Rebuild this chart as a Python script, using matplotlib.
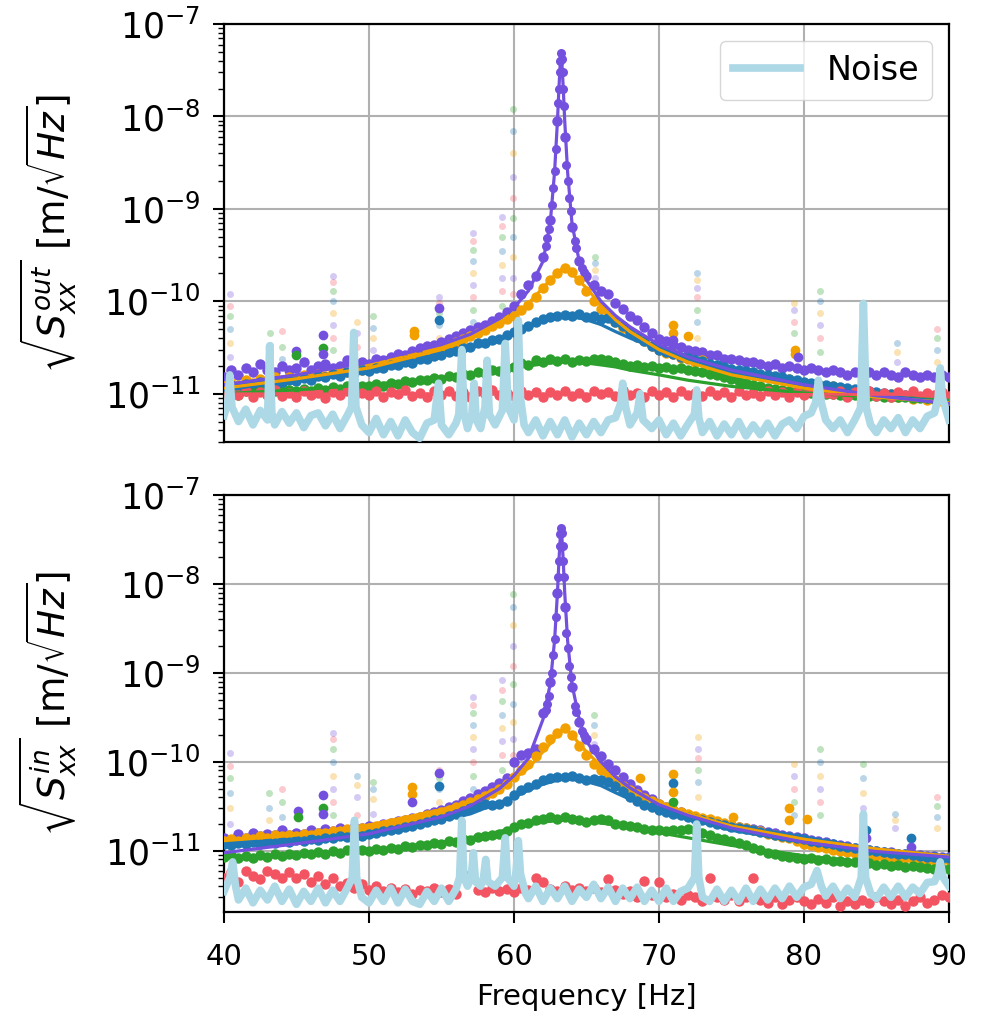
import numpy as np
import matplotlib.pyplot as plt
from matplotlib.ticker import NullFormatter

unit = 1e-11  # all values below are in units of 1e-11 m/sqrt(Hz)

colors = {'purple': '#7350dd', 'orange': '#f2a000', 'blue': '#1f77b4',
          'green': '#2ca02c', 'red': '#f25462'}
noise_color = '#add8e6'
order = ['purple', 'orange', 'blue', 'green', 'red']

# 0.5 Hz bins
freq = np.arange(40, 90.01, 0.5)
ytick_vals = [1e-11, 1e-10, 1e-9, 1e-8, 1e-7]

# ---------------- out-of-plane (top) ----------------
out_purple = [1.5, 1.8, 1.6, 1.9, 1.7, 2.1, 1.8, 1.7, 2.0, 1.8,
              1.9, 2.2, 1.8, 2.0, 2.1, 1.9, 2.0, 2.3, 2.1, 2.2,
              2.1, 2.4, 2.3, 2.5, 2.7, 2.6, 2.9, 3.1, 3.3, 3.4,
              3.6, 3.9, 4.2, 4.5, 4.9, 5.3, 5.6, 6.1, 6.8, 7.6,
              9.0, 12, 15, 19, 30, 76, 900, 600, 63, 27,
              19, 15, 13, 12, 9.5, 8.2, 7.0, 6.2, 5.3, 4.5,
              3.9, 3.7, 3.4, 3.2, 3.0, 2.9, 2.8, 2.6, 2.6, 2.4,
              2.4, 2.3, 2.2, 2.2, 2.1, 2.0, 2.1, 1.9, 2.0, 1.9,
              1.8, 1.9, 1.8, 1.7, 1.8, 1.7, 1.6, 1.7, 1.6, 1.7,
              1.6, 1.7, 1.6, 1.5, 1.7, 1.6, 1.5, 1.6, 1.5, 1.6,
              1.5]
out_orange = [1.2, 1.3, 1.25, 1.4, 1.3, 1.45, 1.35, 1.5, 1.4, 1.5,
              1.45, 1.6, 1.5, 1.65, 1.55, 1.7, 1.75, 1.7, 1.85, 1.8,
              1.95, 2.0, 2.1, 2.2, 2.35, 2.3, 2.6, 2.5, 2.8, 3.0,
              3.1, 3.4, 3.6, 3.9, 4.2, 4.5, 4.9, 5.4, 5.8, 6.4,
              7.0, 8.0, 9.2, 11, 14, 17, 20, 23, 21, 17,
              13, 10, 8.3, 6.9, 5.9, 5.2, 4.6, 4.1, 3.7, 3.3,
              3.0, 2.75, 2.7, 2.45, 2.4, 2.2, 2.3, 2.0, 2.0, 1.85,
              1.8, 1.68, 1.72, 1.58, 1.6, 1.5, 1.52, 1.42, 1.45, 1.36,
              1.3, 1.22, 1.27, 1.15, 1.2, 1.1, 1.13, 1.05, 1.08, 1.0,
              1.02, 0.95, 0.99, 0.92, 0.95, 0.88, 0.92, 0.86, 0.89, 0.84,
              0.86]
out_blue = [1.15, 1.25, 1.18, 1.28, 1.22, 1.33, 1.27, 1.36, 1.3, 1.42,
            1.38, 1.48, 1.42, 1.55, 1.5, 1.62, 1.56, 1.7, 1.66, 1.8,
            1.76, 1.9, 1.88, 2.05, 2.02, 2.2, 2.16, 2.35, 2.4, 2.55,
            2.6, 2.85, 2.9, 3.15, 3.2, 3.5, 3.55, 3.85, 3.9, 4.3,
            4.6, 5.0, 5.4, 5.9, 6.4, 6.7, 7.0, 7.1, 6.9, 7.2,
            6.7, 6.9, 6.5, 6.6, 6.0, 5.4, 4.7, 4.1, 3.7, 3.3,
            3.0, 2.8, 2.7, 2.5, 2.45, 2.3, 2.25, 2.1, 2.05, 1.95,
            1.85, 1.8, 1.75, 1.7, 1.65, 1.6, 1.55, 1.5, 1.45, 1.4,
            1.35, 1.32, 1.28, 1.25, 1.22, 1.18, 1.15, 1.12, 1.1, 1.07,
            1.05, 1.03, 1.0, 0.98, 0.96, 0.94, 0.92, 0.9, 0.89, 0.88,
            0.87]
out_green = [1.0, 1.05, 0.98, 1.06, 1.02, 1.08, 1.0, 1.07, 1.04, 1.1,
             1.06, 1.12, 1.08, 1.15, 1.1, 1.17, 1.13, 1.2, 1.16, 1.22,
             1.2, 1.26, 1.22, 1.3, 1.28, 1.36, 1.33, 1.42, 1.4, 1.48,
             1.45, 1.55, 1.52, 1.62, 1.6, 1.7, 1.68, 1.8, 1.78, 1.9,
             1.95, 2.15, 2.05, 2.3, 2.2, 2.4, 2.25, 2.35, 2.2, 2.3,
             2.25, 2.4, 2.35, 2.3, 2.2, 2.1, 2.0, 2.05, 1.95, 2.0,
             1.9, 1.95, 1.85, 1.9, 1.8, 1.78, 1.7, 1.65, 1.6, 1.5,
             1.45, 1.38, 1.3, 1.25, 1.2, 1.16, 1.12, 1.1, 1.08, 1.06,
             1.05, 1.02, 1.03, 1.0, 1.0, 0.98, 0.98, 0.96, 0.96, 0.95,
             0.95, 0.93, 0.93, 0.92, 0.91, 0.9, 0.9, 0.89, 0.88, 0.88,
             0.87]
out_red = [0.95, 1.05, 0.97, 1.08, 0.93, 1.04, 0.98, 1.1, 0.95, 1.02,
           0.92, 1.06, 0.97, 1.03, 0.9, 1.05, 0.98, 1.08, 0.94, 1.02,
           0.96, 1.07, 0.93, 1.04, 0.99, 1.1, 0.95, 1.03, 0.92, 1.06,
           0.98, 1.08, 0.95, 1.04, 0.93, 1.06, 0.99, 1.09, 0.96, 1.03,
           0.94, 1.07, 0.98, 1.05, 0.92, 1.04, 0.97, 1.08, 0.95, 1.02,
           0.93, 1.06, 0.99, 1.04, 0.95, 1.09, 0.97, 1.03, 0.92, 1.07,
           0.96, 1.05, 0.93, 1.08, 0.98, 1.03, 0.94, 1.07, 0.97, 1.04,
           0.92, 1.06, 0.98, 1.03, 0.95, 1.08, 0.96, 1.04, 0.93, 1.05,
           0.97, 1.07, 0.94, 1.03, 0.99, 1.06, 0.93, 1.04, 0.96, 1.08,
           0.95, 1.03, 0.92, 1.05, 0.98, 1.07, 0.94, 1.02, 0.97, 1.04,
           0.95]

# extra purple samples around the resonance
peak_f = [62.2, 62.3, 62.4, 62.6, 62.7, 62.8, 62.9, 63.05, 63.1, 63.15, 63.2, 63.25,
          63.3, 63.35, 63.4, 63.45, 63.6, 63.7, 63.8, 63.9, 64.2, 64.3, 64.7, 64.8]
out_peak = [40, 48, 60, 110, 170, 260, 450, 1400, 2000, 3000, 4000, 4900,
            4200, 3000, 2000, 1300, 300, 200, 130, 95, 45, 38, 23, 21]

# fitted curves
fit_f = [40, 45, 50, 55, 57, 59, 60, 61, 62, 62.5, 62.8, 63.0, 63.1, 63.2, 63.25, 63.3,
         63.4, 63.5, 63.7, 64.0, 64.5, 65, 66, 67, 68, 70, 72, 75, 80, 85, 90]
out_fit_purple = [1.25, 1.6, 2.2, 3.4, 4.4, 6.5, 8.5, 13, 27, 70, 250, 900, 2000, 4000, 4800, 4000,
                  2000, 900, 250, 70, 27, 17, 10, 7.0, 5.3, 3.4, 2.5, 1.8, 1.25, 0.95, 0.78]
out_fit_orange = [1.15, 1.45, 1.9, 3.0, 3.9, 5.6, 7.0, 9.5, 14, 17, 19, 20, 21, 21.5, 22, 22,
                  22, 22, 21.5, 20, 16.5, 14, 9, 6.3, 4.7, 3.0, 2.2, 1.6, 1.15, 0.92, 0.8]
out_fit_blue = [1.1, 1.4, 1.8, 2.6, 3.1, 4.0, 4.5, 5.2, 6.0, 6.3, 6.5, 6.6, 6.65, 6.7, 6.7, 6.75,
                6.75, 6.8, 6.8, 6.75, 6.6, 6.3, 5.6, 4.7, 4.0, 3.0, 2.3, 1.7, 1.22, 0.96, 0.81]
out_fit_green = [1.0, 1.1, 1.25, 1.5, 1.62, 1.8, 1.9, 2.0, 2.1, 2.15, 2.17, 2.18, 2.19, 2.2, 2.2, 2.2,
                 2.2, 2.2, 2.2, 2.2, 2.18, 2.15, 2.05, 1.95, 1.8, 1.6, 1.4, 1.2, 1.02, 0.92, 0.85]
red_fit_f = [40, 90]
out_fit_red = [1.0, 0.98]

out_noise_f = [40.0, 40.25, 40.4, 40.55, 41.0, 41.5, 42.0, 42.5, 43.0, 43.15, 43.3, 43.5,
               44.0, 44.5, 45.0, 45.5, 46.0, 46.5, 47.0, 47.5, 48.0, 48.5, 48.8, 48.95,
               49.1, 49.5, 50.0, 50.5, 51.0, 51.5, 52.0, 52.5, 53.0, 53.5, 54.0, 54.5,
               54.8, 55.0, 55.5, 56.0, 56.2, 56.4, 56.55, 56.8, 57.1, 57.25, 57.4, 57.7,
               58.0, 58.15, 58.3, 58.7, 59.2, 59.4, 59.6, 60.0, 60.2, 60.3, 60.45, 60.7,
               61.0, 61.5, 62.0, 62.5, 63.0, 63.5, 64.0, 64.5, 65.0, 65.5, 66.0, 66.5,
               67.0, 67.35, 67.5, 67.7, 68.0, 68.5, 68.7, 68.9, 69.5, 70.0, 70.5, 71.0,
               71.5, 72.0, 72.45, 72.6, 72.75, 73.0, 73.5, 74.0, 74.5, 75.0, 75.5, 76.0,
               76.5, 77.0, 77.5, 78.0, 78.5, 79.0, 79.5, 80.0, 80.5, 80.8, 81.0, 81.2,
               81.5, 82.0, 82.5, 83.0, 83.5, 83.9, 84.1, 84.3, 84.6, 85.0, 85.5, 86.0,
               86.5, 87.0, 87.5, 88.0, 88.5, 89.0, 89.25, 89.4, 89.55, 90.0]
out_noise_v = [0.58, 0.78, 1.6, 0.72, 0.5, 0.68, 0.46, 0.66, 0.52, 3.3, 0.62, 0.46,
               0.64, 0.48, 0.62, 0.43, 0.58, 0.62, 0.45, 0.6, 0.42, 0.58, 0.72, 4.6,
               0.72, 0.46, 0.38, 0.54, 0.36, 0.5, 0.35, 0.52, 0.38, 0.33, 0.48, 0.52,
               1.3, 0.46, 0.36, 0.48, 0.6, 3.0, 0.62, 0.42, 0.62, 1.3, 0.52, 0.42,
               0.72, 2.3, 0.6, 0.46, 0.66, 3.5, 0.72, 0.52, 1.0, 6.2, 0.9, 0.46,
               0.38, 0.52, 0.35, 0.5, 0.36, 0.52, 0.34, 0.48, 0.36, 0.5, 0.38, 0.52,
               0.55, 0.78, 1.3, 0.72, 0.46, 0.62, 1.0, 0.52, 0.42, 0.52, 0.36, 0.48,
               0.35, 0.47, 0.6, 1.1, 0.55, 0.38, 0.5, 0.35, 0.47, 0.36, 0.5, 0.35,
               0.46, 0.36, 0.48, 0.35, 0.47, 0.52, 0.42, 0.57, 0.62, 0.8, 1.4, 0.8,
               0.52, 0.42, 0.52, 0.38, 0.52, 0.7, 9.5, 0.7, 0.46, 0.38, 0.52, 0.42,
               0.55, 0.38, 0.52, 0.42, 0.57, 0.62, 0.9, 1.9, 0.9, 0.52]

# points flagged out of the fit (drawn faint)
out_spike_f = [40.4, 43.2, 44.0, 47.5, 49.2, 50.3, 54.8, 57.2, 59.2, 59.9,
               65.6, 72.6, 79.3, 81.1, 84.1, 86.4, 89.2]
out_spike_v = [[2.5, 3.5, 5, 7, 9, 12], [2.6, 3.4, 4.5], [2.4, 3.2, 4.8],
               [3, 4, 5.5, 7.5, 10, 13, 16, 19], [3.2, 4.5, 6], [3, 4, 5.2, 7],
               [4, 5.5, 7.5, 9.5, 11], [6, 8, 11, 15, 20, 27, 36, 45, 55],
               [9, 13, 18, 25, 35, 50, 65, 81],
               [12, 18, 30, 50, 80, 130, 220, 400, 700, 1200],
               [18, 22, 26, 30], [4, 6, 8, 11, 14, 17, 20], [3, 4.5, 6, 8, 9.5],
               [2.8, 4, 5.5, 7.5, 10, 13], [2.5, 3.5, 5, 7, 9.5], [2.2, 2.8, 3.5],
               [2.2, 3, 4, 5]]
out_outl_f = [45.0, 45.0, 46.8, 46.8, 46.8, 53.1, 53.1, 54.8, 54.8, 71.0, 71.0, 71.0,
              72.0, 79.4, 79.4, 79.6]
out_outl_v = [2.9, 2.6, 4.3, 3.1, 2.7, 4.8, 4.3, 8.5, 6.2, 5.5, 4.5, 3.8, 4.2, 3.0, 2.7, 2.5]
out_outl_c = ['purple', 'green', 'purple', 'green', 'purple', 'orange', 'orange', 'purple',
              'blue', 'orange', 'orange', 'purple', 'orange', 'orange', 'orange', 'purple']

# ---------------- in-plane (bottom) ----------------
in_purple = [1.4, 1.3, 1.55, 1.4, 1.6, 1.45, 1.55, 1.5, 1.7, 1.5,
             1.6, 1.55, 1.7, 1.6, 1.75, 1.65, 1.8, 1.7, 1.85, 1.8,
             1.9, 1.85, 2.0, 2.05, 2.15, 2.2, 2.35, 2.4, 2.6, 2.7,
             2.9, 3.1, 3.3, 3.6, 3.9, 4.3, 4.7, 5.2, 5.8, 6.5,
             10, 12, 12.5, 14, 35, 80, 800, 550, 70, 28,
             18, 14, 11.5, 9.5, 8.0, 6.8, 5.6, 4.8, 4.2, 3.8,
             3.4, 3.1, 2.9, 2.7, 2.5, 2.4, 2.3, 2.2, 2.1, 2.0,
             1.95, 1.85, 1.8, 1.75, 1.7, 1.62, 1.58, 1.52, 1.48, 1.42,
             1.38, 1.32, 1.3, 1.24, 1.2, 1.15, 1.13, 1.08, 1.06, 1.02,
             1.0, 0.97, 0.96, 0.93, 0.93, 0.9, 0.9, 0.88, 0.88, 0.86,
             0.86]
in_orange = [1.3, 1.35, 1.3, 1.4, 1.35, 1.45, 1.4, 1.5, 1.45, 1.5,
             1.48, 1.55, 1.52, 1.6, 1.58, 1.68, 1.65, 1.75, 1.72, 1.82,
             1.8, 1.9, 1.95, 2.05, 2.1, 2.2, 2.3, 2.4, 2.5, 2.6,
             2.7, 2.9, 3.1, 3.3, 3.5, 3.8, 4.1, 4.5, 5.0, 5.7,
             6.8, 8.0, 9.5, 11.5, 14.5, 18, 21, 24, 20, 15,
             12, 9.5, 8.0, 7.0, 6.2, 5.4, 4.8, 4.3, 3.9, 3.6,
             3.4, 3.1, 2.9, 2.75, 2.6, 2.45, 2.35, 2.25, 2.15, 2.05,
             1.95, 1.85, 1.8, 1.7, 1.65, 1.55, 1.5, 1.42, 1.38, 1.3,
             1.2, 1.16, 1.1, 1.07, 1.03, 1.0, 0.96, 0.95, 0.92, 0.9,
             0.88, 0.86, 0.84, 0.83, 0.82, 0.8, 0.8, 0.79, 0.78, 0.78,
             0.78]
in_blue = [1.2, 1.15, 1.22, 1.18, 1.25, 1.2, 1.28, 1.23, 1.3, 1.26,
           1.32, 1.28, 1.36, 1.33, 1.4, 1.38, 1.45, 1.42, 1.5, 1.48,
           1.55, 1.58, 1.65, 1.7, 1.78, 1.85, 1.92, 2.0, 2.1, 2.2,
           2.3, 2.45, 2.6, 2.8, 3.0, 3.2, 3.4, 3.3, 3.4, 3.6,
           4.2, 4.8, 5.2, 5.7, 6.2, 6.6, 6.8, 6.7, 6.9, 6.5,
           6.3, 6.4, 6.2, 5.9, 5.3, 4.7, 4.0, 3.6, 3.3, 3.1,
           2.9, 2.75, 2.6, 2.5, 2.4, 2.3, 2.2, 2.1, 2.0, 1.95,
           1.85, 1.8, 1.75, 1.7, 1.63, 1.58, 1.52, 1.47, 1.42, 1.38,
           1.35, 1.3, 1.26, 1.22, 1.18, 1.14, 1.1, 1.07, 1.04, 1.02,
           1.0, 0.97, 0.95, 0.93, 0.91, 0.89, 0.87, 0.86, 0.85, 0.84,
           0.83]
in_green = [0.85, 0.9, 0.82, 0.88, 0.84, 0.9, 0.86, 0.92, 0.87, 0.93,
            0.9, 0.95, 0.91, 0.97, 0.93, 0.99, 0.95, 1.01, 0.97, 1.03,
            1.0, 1.05, 1.02, 1.08, 1.06, 1.12, 1.1, 1.17, 1.15, 1.22,
            1.2, 1.28, 1.26, 1.35, 1.33, 1.42, 1.45, 1.52, 1.55, 1.65,
            1.85, 2.0, 2.05, 2.2, 2.25, 2.4, 2.3, 2.4, 2.25, 2.2,
            2.1, 2.2, 2.3, 2.2, 2.0, 1.95, 1.9, 1.85, 1.78, 1.72,
            1.7, 1.68, 1.72, 1.7, 1.75, 1.7, 1.6, 1.5, 1.4, 1.35,
            1.3, 1.22, 1.15, 1.08, 1.02, 0.95, 0.92, 0.88, 0.86, 0.83,
            0.8, 0.82, 0.78, 0.8, 0.76, 0.77, 0.74, 0.75, 0.72, 0.73,
            0.7, 0.71, 0.68, 0.69, 0.66, 0.67, 0.65, 0.64, 0.63, 0.63,
            0.62]
in_red = [0.5, 0.58, 0.45, 0.6, 0.52, 0.48, 0.6, 0.55, 0.5, 0.58,
          0.5, 0.55, 0.45, 0.52, 0.42, 0.5, 0.4, 0.44, 0.38, 0.42,
          0.36, 0.4, 0.35, 0.38, 0.34, 0.37, 0.33, 0.36, 0.35, 0.38,
          0.34, 0.37, 0.33, 0.55, 0.5, 0.36, 0.34, 0.38, 0.35, 0.37,
          0.34, 0.38, 0.36, 0.5, 0.45, 0.37, 0.35, 0.4, 0.36, 0.38,
          0.35, 0.38, 0.34, 0.48, 0.36, 0.33, 0.35, 0.3, 0.46, 0.32,
          0.45, 0.3, 0.33, 0.28, 0.32, 0.3, 0.27, 0.5, 0.3, 0.28,
          0.32, 0.27, 0.3, 0.5, 0.28, 0.26, 0.3, 0.25, 0.28, 0.3,
          0.27, 0.25, 0.29, 0.26, 0.3, 0.24, 0.27, 0.25, 0.28, 0.26,
          0.3, 0.27, 0.25, 0.28, 0.24, 0.27, 0.3, 0.26, 0.28, 0.32,
          0.3]

in_peak = [38, 45, 55, 100, 160, 240, 420, 1200, 1800, 2700, 3600, 4300,
           3700, 2700, 1800, 1200, 280, 190, 120, 90, 42, 36, 22, 20]

in_fit_purple = [0.95, 1.2, 1.55, 2.4, 3.2, 5.0, 7.0, 11, 30, 75, 230, 800, 1800, 3500, 4200, 3500,
                 1800, 800, 230, 75, 30, 17, 10, 6.8, 5.1, 3.3, 2.5, 1.8, 1.25, 0.98, 0.85]
in_fit_orange = [1.3, 1.5, 1.95, 2.9, 3.6, 5.2, 6.5, 8.5, 13, 16, 18.5, 20, 21, 22, 22.5, 23,
                 23, 23, 22, 20, 16, 13, 9, 6.5, 5.0, 3.4, 2.6, 1.9, 1.35, 1.05, 0.87]
in_fit_blue = [1.1, 1.3, 1.6, 2.2, 2.6, 3.5, 4.0, 4.8, 5.6, 5.9, 6.1, 6.2, 6.25, 6.3, 6.3, 6.35,
               6.35, 6.4, 6.4, 6.35, 6.2, 6.0, 5.4, 4.5, 3.8, 2.9, 2.3, 1.7, 1.25, 0.98, 0.82]
in_fit_green = [0.83, 0.9, 1.0, 1.25, 1.4, 1.65, 1.8, 1.95, 2.1, 2.15, 2.17, 2.18, 2.19, 2.2, 2.2, 2.2,
                2.2, 2.2, 2.2, 2.2, 2.18, 2.15, 2.05, 1.95, 1.85, 1.6, 1.4, 1.15, 0.88, 0.72, 0.6]

in_noise_f = [40.0, 40.4, 40.6, 40.8, 41.0, 41.5, 42.0, 42.5, 43.0, 43.5, 44.0, 44.5,
              45.0, 45.5, 46.0, 46.5, 47.0, 47.5, 48.0, 48.5, 48.85, 49.0, 49.15, 49.5,
              50.0, 50.5, 51.0, 51.5, 52.0, 52.5, 53.0, 53.5, 54.0, 54.5, 55.0, 55.5,
              56.0, 56.25, 56.4, 56.55, 56.8, 57.05, 57.2, 57.35, 57.7, 57.9, 58.05, 58.2,
              58.7, 59.2, 59.4, 59.55, 60.0, 60.15, 60.3, 60.45, 60.8, 61.0, 61.5, 62.0,
              62.5, 63.0, 63.5, 64.0, 64.5, 65.0, 65.5, 66.0, 66.5, 67.0, 67.5, 68.0,
              68.5, 69.0, 69.5, 70.0, 70.5, 71.0, 71.5, 72.0, 72.45, 72.6, 72.75, 73.0,
              73.5, 74.0, 74.5, 75.0, 75.5, 76.0, 76.5, 77.0, 77.5, 78.0, 78.5, 79.0,
              79.5, 80.0, 80.5, 80.9, 81.2, 81.5, 82.0, 82.5, 83.0, 83.5, 83.95, 84.1,
              84.25, 84.6, 85.0, 85.5, 86.0, 86.5, 87.0, 87.5, 88.0, 88.5, 89.0, 89.25,
              89.4, 89.6, 90.0]
in_noise_v = [0.35, 0.5, 0.75, 0.4, 0.28, 0.38, 0.26, 0.36, 0.28, 0.4, 0.27, 0.37,
              0.25, 0.35, 0.27, 0.38, 0.26, 0.36, 0.27, 0.38, 0.5, 2.2, 0.5, 0.3,
              0.26, 0.36, 0.27, 0.38, 0.26, 0.37, 0.27, 0.25, 0.35, 0.27, 0.38, 0.27,
              0.37, 0.5, 2.2, 0.5, 0.4, 0.5, 0.95, 0.45, 0.4, 0.5, 0.8, 0.45,
              0.4, 0.5, 1.4, 0.5, 0.4, 0.6, 1.3, 0.55, 0.33, 0.29, 0.4, 0.27,
              0.38, 0.29, 0.4, 0.27, 0.37, 0.3, 0.42, 0.29, 0.39, 0.27, 0.38, 0.29,
              0.39, 0.27, 0.36, 0.27, 0.38, 0.27, 0.35, 0.38, 0.5, 2.0, 0.5, 0.3,
              0.27, 0.37, 0.27, 0.36, 0.27, 0.38, 0.27, 0.37, 0.28, 0.38, 0.29, 0.4,
              0.3, 0.39, 0.42, 0.6, 0.4, 0.31, 0.4, 0.29, 0.38, 0.3, 0.5, 2.6,
              0.5, 0.33, 0.29, 0.39, 0.3, 0.4, 0.3, 0.39, 0.33, 0.44, 0.45, 0.55,
              0.75, 0.5, 0.4]

in_spike_f = [40.4, 43.1, 44.0, 47.5, 49.2, 50.3, 54.8, 57.2, 59.2, 59.9,
              65.5, 72.7, 79.3, 81.1, 84.1, 86.3, 89.2]
in_spike_v = [[2, 3, 4.5, 6.5, 9, 12.5], [2.2, 3, 4.5], [2.4, 3.5, 5],
              [2.5, 3.5, 5, 7, 10, 14, 18, 21], [2.5, 4, 5.5, 7], [2.6, 3.8, 5, 6],
              [3.5, 5, 6.5, 8], [5, 7, 10, 14, 19, 26, 35, 44, 53],
              [8, 12, 17, 24, 34, 48, 65, 83],
              [12, 18, 28, 45, 75, 120, 200, 350, 550, 780],
              [16, 20, 26, 34], [4, 6, 8, 11, 14, 19], [2.5, 3.5, 5, 7, 9.5],
              [2.5, 3.5, 5, 7, 10, 14], [2.2, 3, 4.5, 6.5, 9.5], [1.8, 2.2, 2.6],
              [1.8, 2.4, 3.2, 4]]
in_outl_f = [45.1, 45.1, 46.8, 46.8, 46.8, 53.0, 53.0, 53.0, 54.8, 54.8, 68.7, 71.0,
             71.0, 71.0, 71.0, 75.1, 79.0, 79.0, 80.2, 84.3, 84.3, 87.4, 87.4]
in_outl_v = [2.8, 2.4, 4.2, 3.0, 2.6, 5.2, 4.3, 3.5, 7.4, 5.3, 6.6, 7.3,
             5.8, 4.6, 3.5, 2.4, 3.0, 2.2, 2.3, 1.7, 1.4, 1.4, 1.1]
in_outl_c = ['purple', 'green', 'purple', 'green', 'purple', 'orange', 'orange', 'purple',
             'purple', 'blue', 'orange', 'orange', 'blue', 'orange', 'green', 'orange',
             'orange', 'orange', 'orange', 'blue', 'purple', 'blue', 'purple']


def sc(v):
    return np.array(v, dtype=float) * unit


def plot_panel(ax, series, peak_v, fits, red_fit, noise_f, noise_v,
               spike_f, spike_v, outl_f, outl_v, outl_c, ylim, ylabel, legend):
    # faint excluded points
    for j, f in enumerate(spike_f):
        for k, v in enumerate(spike_v[j]):
            ax.plot(f, v * unit, 'o', ms=5, mec='none', alpha=0.3,
                    color=colors[order[(j + k) % 5]], zorder=2)
    # measured points
    for name in order:
        ax.plot(freq, sc(series[name]), 'o', ms=7.5, mec='none',
                color=colors[name], zorder=3)
        if name == 'purple':
            ax.plot(peak_f, sc(peak_v), 'o', ms=6.5, mec='none',
                    color=colors[name], zorder=3)
    for f, v, c in zip(outl_f, outl_v, outl_c):
        ax.plot(f, v * unit, 'o', ms=7, mec='none', color=colors[c], zorder=3)
    # fits
    for name in ['green', 'blue', 'orange', 'purple']:
        ax.plot(fit_f, sc(fits[name]), '-', lw=2.3, color=colors[name], zorder=4)
    if red_fit is not None:
        ax.plot(red_fit_f, sc(red_fit), '-', lw=2.0, color=colors['red'], zorder=4)
    # noise
    ax.plot(noise_f, sc(noise_v), '-', lw=5.5, color=noise_color, label='Noise',
            zorder=5, solid_joinstyle='round')

    ax.set_yscale('log')
    ax.set_xlim(40, 90)
    ax.set_ylim(ylim)
    ax.set_yticks(ytick_vals)
    ax.yaxis.set_minor_formatter(NullFormatter())
    ax.grid(True, which='major', color='#b0b0b0', lw=1.5)
    ax.set_ylabel(ylabel, fontsize=27)
    ax.yaxis.set_label_coords(-0.20, 0.5)
    ax.tick_params(axis='y', which='major', labelsize=25, length=8, width=1.5, pad=9)
    ax.tick_params(axis='y', which='minor', length=4.5, width=1.0)
    for s in ax.spines.values():
        s.set_linewidth(1.6)
    if legend:
        ax.legend(loc='upper right', fontsize=24, borderpad=0.4, handlelength=2.0)


fig = plt.figure(figsize=(9.99, 10.23), dpi=100)
ax1 = fig.add_axes([0.2242, 0.5679, 0.7257, 0.4086])
ax2 = fig.add_axes([0.2242, 0.1085, 0.7257, 0.4076])

plot_panel(ax1,
           {'purple': out_purple, 'orange': out_orange, 'blue': out_blue,
            'green': out_green, 'red': out_red},
           out_peak,
           {'purple': out_fit_purple, 'orange': out_fit_orange,
            'blue': out_fit_blue, 'green': out_fit_green},
           out_fit_red, out_noise_f, out_noise_v, out_spike_f, out_spike_v,
           out_outl_f, out_outl_v, out_outl_c, (3e-12, 1e-7),
           r'$\sqrt{S_{xx}^{out}}$ [m/$\sqrt{Hz}$]', True)
plot_panel(ax2,
           {'purple': in_purple, 'orange': in_orange, 'blue': in_blue,
            'green': in_green, 'red': in_red},
           in_peak,
           {'purple': in_fit_purple, 'orange': in_fit_orange,
            'blue': in_fit_blue, 'green': in_fit_green},
           None, in_noise_f, in_noise_v, in_spike_f, in_spike_v,
           in_outl_f, in_outl_v, in_outl_c, (2.05e-12, 1e-7),
           r'$\sqrt{S_{xx}^{in}}$ [m/$\sqrt{Hz}$]', False)

ax1.set_xticks([40, 50, 60, 70, 80, 90])
ax1.tick_params(axis='x', which='both', length=0, labelbottom=False)
ax2.set_xticks([40, 50, 60, 70, 80, 90])
ax2.tick_params(axis='x', which='major', labelsize=21, length=8, width=1.5, pad=14)
ax2.set_xlabel('Frequency [Hz]', fontsize=21, labelpad=9)

fig.savefig('out.png', dpi=100)
